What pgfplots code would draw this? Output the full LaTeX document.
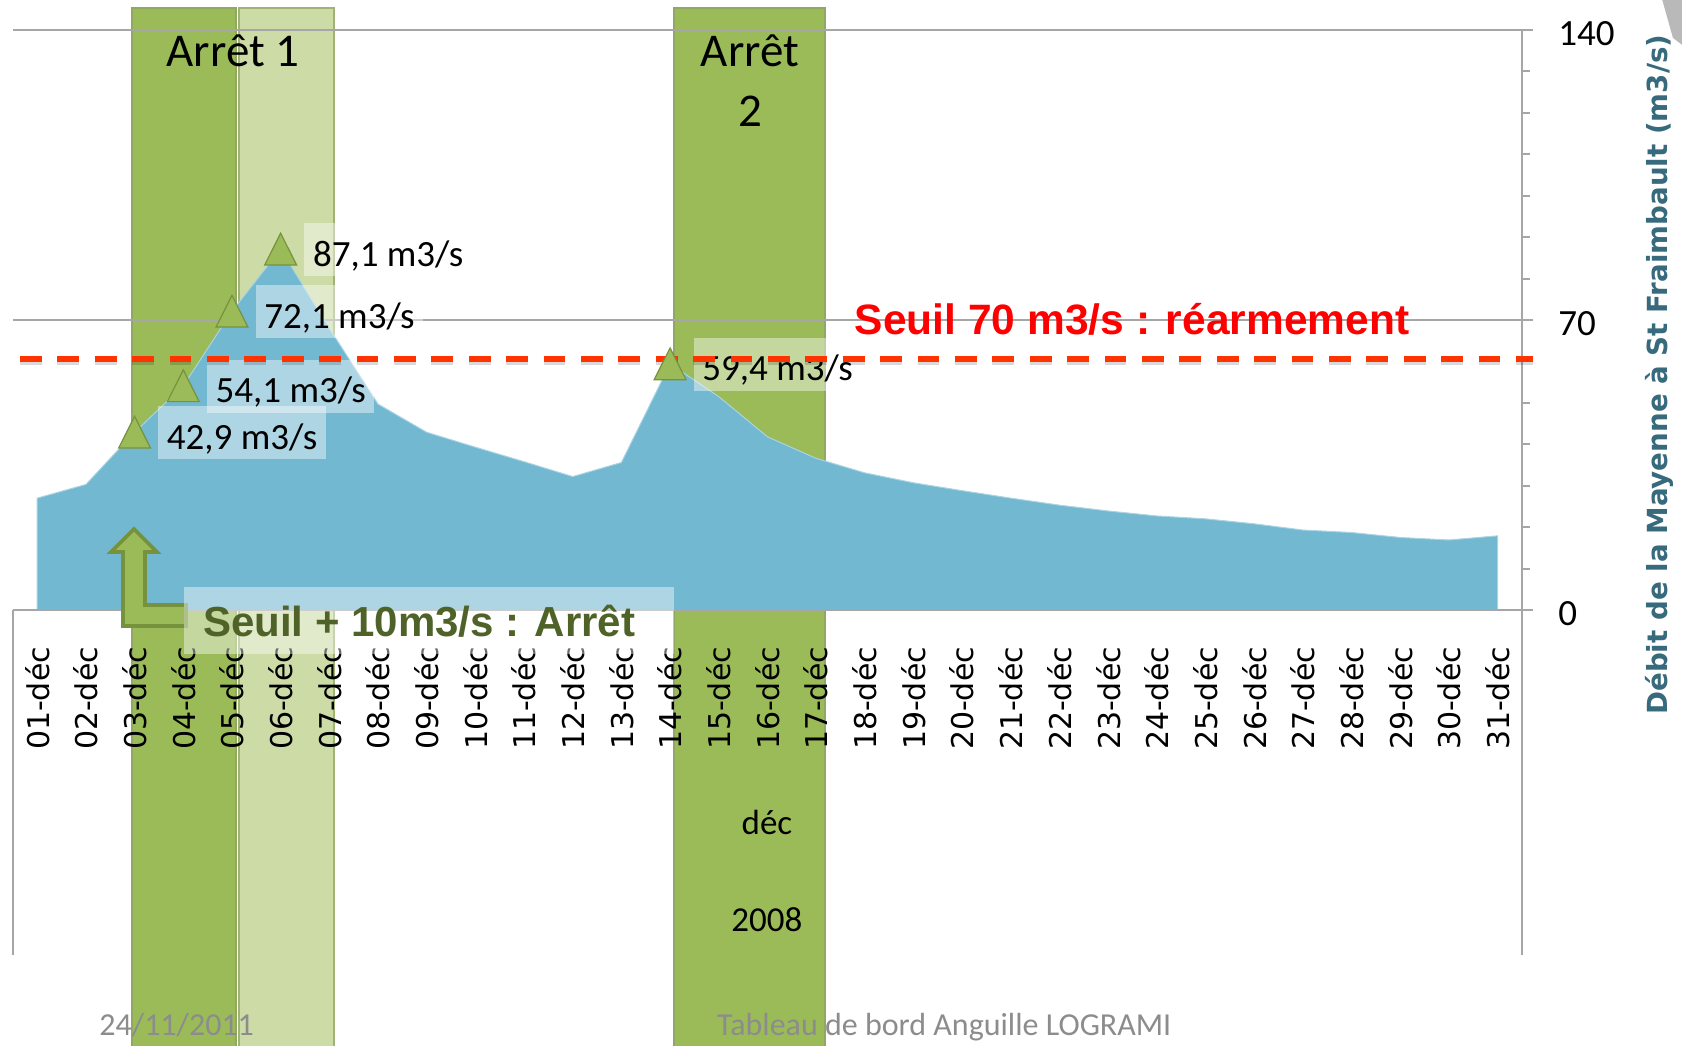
\documentclass[border=0pt]{standalone}
\usepackage{fontspec}
\setmainfont{Carlito}
\newfontfamily\dejavu{DejaVu Sans}
\newfontfamily\arialf{Liberation Sans}
\usepackage{pgfplots}
\pgfplotsset{compat=1.18}

\definecolor{areablue}{HTML}{72B8D0}
\definecolor{olivegreen}{HTML}{9BBB59}
\definecolor{olivedark}{HTML}{76923C}
\definecolor{lightolive}{HTML}{CDDBA7}
\definecolor{gridgray}{HTML}{A6A6A6}
\definecolor{seuilred}{HTML}{FF3300}
\definecolor{textolive}{HTML}{4F6228}
\definecolor{axisteal}{HTML}{376A7C}
\definecolor{footgray}{HTML}{8C8C8C}

\begin{document}
\begin{tikzpicture}
\begin{axis}[
    set layers,
    at={(6.45pt,217.5pt)}, anchor=south west,
    scale only axis, width=754.55pt, height=290pt,
    xmin=0.5, xmax=31.5, ymin=0, ymax=140,
    axis x line*=bottom, axis y line*=right,
    axis line style={gridgray, line width=1pt},
    xtick={1,...,31},
    xticklabels={01-déc,02-déc,03-déc,04-déc,05-déc,06-déc,07-déc,08-déc,09-déc,10-déc,
        11-déc,12-déc,13-déc,14-déc,15-déc,16-déc,17-déc,18-déc,19-déc,20-déc,
        21-déc,22-déc,23-déc,24-déc,25-déc,26-déc,27-déc,28-déc,29-déc,30-déc,31-déc},
    xtick style={draw=none},
    xticklabel style={font=\dejavu\fontsize{15}{15}\selectfont, yshift=-12.8pt, rotate=90, anchor=east, inner sep=0pt},
    ytick={0,70,140}, yticklabels={0,70,140},
    minor ytick={10,20,30,40,50,60,80,90,100,110,120,130},
    tick align=outside,
    major tick length=5.5pt, minor tick length=4.2pt,
    ytick style={gridgray, line width=1pt},
    yticklabel style={font=\fontsize{18.5}{20}\selectfont, anchor=west, inner sep=0pt, xshift=12.5pt, yshift=-1.75pt},
    /pgf/number format/assume math mode=true,
    ymajorgrids, major grid style={gridgray, line width=1pt},
    clip=false,
]
% bandes d'arret, derriere le graphique
\begin{pgfonlayer}{axis background}
\filldraw[fill=olivegreen, draw=olivedark!80, line width=1pt] (axis cs:2.947,145.3) rectangle (axis cs:5.083,-106);
\filldraw[fill=lightolive, draw=olivedark!70, line width=1pt] (axis cs:5.145,145.3) rectangle (axis cs:7.096,-106);
\filldraw[fill=olivegreen, draw=olivedark!80, line width=1pt] (axis cs:14.08,145.3) rectangle (axis cs:17.18,-106);
\end{pgfonlayer}

% debit journalier
\addplot[fill=areablue, draw=areablue!60!white, line width=0.5pt] coordinates {
    (1,27.0) (2,30.3) (3,42.9) (4,54.1) (5,72.1) (6,87.1) (7,68.0) (8,49.7)
    (9,42.9) (10,39.3) (11,35.8) (12,32.2) (13,35.6) (14,59.4) (15,51.5) (16,41.8)
    (17,36.6) (18,33.1) (19,30.7) (20,28.8) (21,27.0) (22,25.3) (23,23.9) (24,22.7)
    (25,22.0) (26,20.8) (27,19.3) (28,18.7) (29,17.5) (30,16.9) (31,17.9)
} \closedcycle;

\draw[gridgray, line width=1pt] (axis cs:0.5,0) -- (axis cs:31.5,0);
\draw[gridgray, line width=1pt] (axis cs:0.5,0) -- (axis cs:0.5,-83.3);
\draw[gridgray, line width=1pt] (axis cs:31.5,0) -- (axis cs:31.5,-83.3);

% points remarquables
\addplot[only marks, mark=triangle*, mark size=9.2pt,
    mark options={yshift=-2.6pt, yscale=1.15, fill=olivegreen, draw=olivedark, line width=0.6pt}]
    coordinates {(3,42.9) (4,54.1) (5,72.1) (6,87.1) (14,59.4)};

\tikzset{vlab/.style={fill=white, fill opacity=0.42, text opacity=1, anchor=west,
    inner xsep=4.3pt, inner ysep=0pt, text height=21.45pt, text depth=5.05pt,
    font=\fontsize{18.5}{20}\selectfont}}
\node[vlab] at (axis cs:3.48,42.75) {42,9 m3/s};
\node[vlab] at (axis cs:4.48,53.95) {54,1 m3/s};
\node[vlab] at (axis cs:5.48,71.95) {72,1 m3/s};
\node[vlab] at (axis cs:6.48,86.95) {87,1 m3/s};
\node[vlab] at (axis cs:14.48,59.25) {59,4 m3/s};

% seuil
\addplot[black, opacity=0.15, line width=3pt, dash pattern=on 10.85pt off 7.85pt, forget plot]
    coordinates {(0.646,59.9) (31.727,59.9)};
\addplot[seuilred, line width=3pt, dash pattern=on 10.85pt off 7.85pt]
    coordinates {(0.646,60.6) (31.727,60.6)};

\node[anchor=base west, inner sep=0pt, text=red, font=\arialf\bfseries\fontsize{21.25}{22}\selectfont]
    at (axis cs:17.79,66.4) {Seuil 70 m3/s : réarmement};

\node[anchor=base, font=\fontsize{23.5}{25}\selectfont] at (axis cs:5.02,131.07) {Arrêt 1};
\node[anchor=base, font=\fontsize{23.5}{25}\selectfont] at (axis cs:15.64,131.07) {Arrêt};
\node[anchor=base, font=\fontsize{23.5}{25}\selectfont] at (axis cs:15.64,116.8) {2};

% fleche et seuil d'arret
\filldraw[fill=olivegreen, draw=olivedark, line width=1.8pt, line join=miter]
    (axis cs:2.988,19.55) -- (axis cs:3.460,14.0) -- (axis cs:3.214,14.0) -- (axis cs:3.214,1.21)
    -- (axis cs:4.056,1.21) -- (axis cs:4.056,-3.86) -- (axis cs:2.762,-3.86) -- (axis cs:2.762,14.0)
    -- (axis cs:2.515,14.0) -- cycle;
\fill[white, opacity=0.42] (axis cs:4.015,5.55) rectangle (axis cs:14.081,-10.62);
\node[anchor=base west, inner sep=0pt, text=textolive, font=\arialf\bfseries\fontsize{21}{22}\selectfont]
    at (axis cs:4.40,-6.28) {Seuil + 10m3/s : Arrêt};

% categories de second niveau
\node[anchor=base, font=\fontsize{17.5}{19}\selectfont] at (axis cs:15.99,-54.31) {déc};
\node[anchor=base, font=\fontsize{17.5}{19}\selectfont] at (axis cs:15.99,-77.72) {2008};

% titre de l'axe
\node[rotate=90, text=axisteal, font=\dejavu\bfseries\fontsize{13.85}{15}\selectfont]
    at (axis cs:34.32,56.8) {Débit de la Mayenne à St Fraimbault (m3/s)};

% coin de diapositive
\fill[gray!55] (axis cs:34.38,147.3) -- (axis cs:34.8,147.3) -- (axis cs:34.8,136.3) -- (axis cs:34.6,138.1) -- cycle;

% pied de page
\node[anchor=base west, inner sep=0pt, text=footgray, font=\fontsize{16}{18}\selectfont] at (axis cs:2.27,-102.6) {24/11/2011};
\node[anchor=base west, inner sep=0pt, text=footgray, font=\fontsize{16}{18}\selectfont] at (axis cs:14.96,-102.6) {Tableau de bord Anguille LOGRAMI};
\end{axis}
\pgfresetboundingbox
\path (0,0) rectangle (841pt,522.5pt);
\end{tikzpicture}
\end{document}
